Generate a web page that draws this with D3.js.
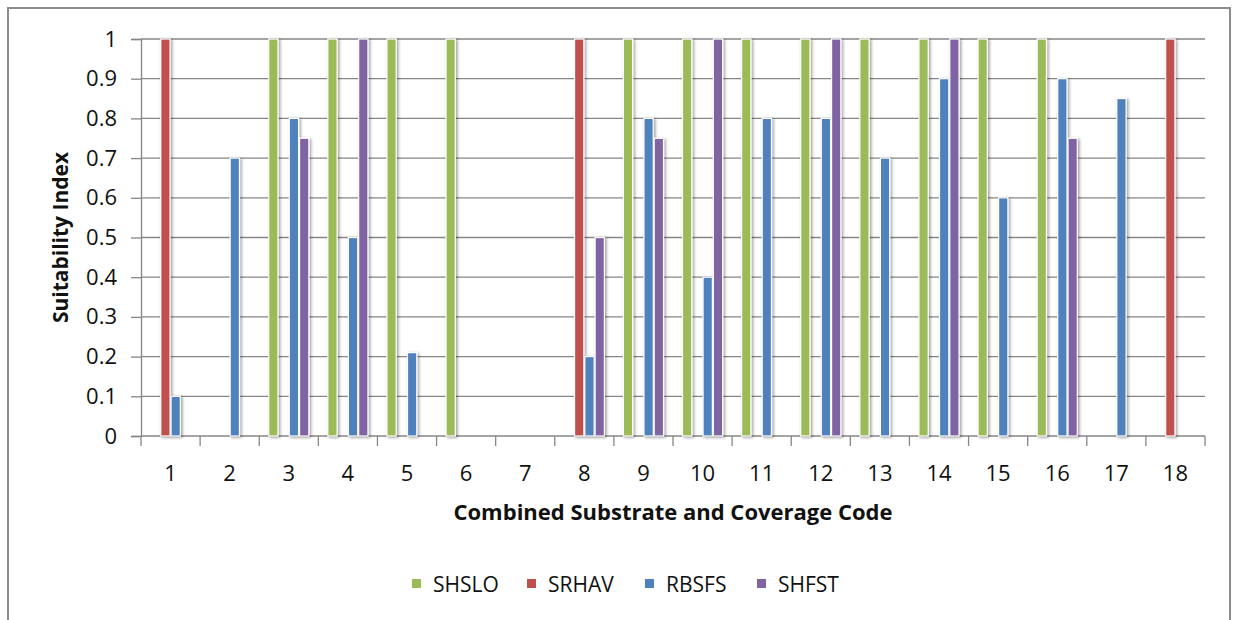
<!DOCTYPE html>
<html>
<head>
<meta charset="utf-8">
<script src="https://cdn.jsdelivr.net/npm/d3@7"></script>
<style>
  body { margin: 0; background: #fff; }
  svg text { font-family: "Open Sans", "Liberation Sans", sans-serif; fill: #111; }
</style>
</head>
<body>
<div id="chart"></div>
<script>
// Chart data
const categories = ["1", "2", "3", "4", "5", "6", "7", "8", "9", "10", "11", "12", "13", "14", "15", "16", "17", "18"];
const seriesNames = ["SHSLO", "SRHAV", "RBSFS", "SHFST"];
const shslo = [null, null, 1, 1, 1, 1, null, null, 1, 1, 1, 1, 1, 1, 1, 1, null, null];
const srhav = [1, null, null, null, null, null, null, 1, null, null, null, null, null, null, null, null, null, 1];
const rbsfs = [0.1, 0.7, 0.8, 0.5, 0.21, null, null, 0.2, 0.8, 0.4, 0.8, 0.8, 0.7, 0.9, 0.6, 0.9, 0.85, null];
const shfst = [null, null, 0.75, 1, null, null, null, 0.5, 0.75, 1, null, 1, null, 1, null, 0.75, null, null];
const yTicks = [0, 0.1, 0.2, 0.3, 0.4, 0.5, 0.6, 0.7, 0.8, 0.9, 1];
const colors = ["#9BBB59", "#C0504D", "#4F81BD", "#8064A2"];

const seriesValues = [shslo, srhav, rbsfs, shfst];

// Dimensions
const W = 1235, H = 620;
const plot = { left: 141, right: 1205, top: 39, bottom: 436 };

const svg = d3.select("#chart")
    .append("svg")
    .attr("width", W)
    .attr("height", H);

// Drop shadow for bars
const defs = svg.append("defs");
const shadow = defs.append("filter")
    .attr("id", "shadow")
    .attr("x", "-50%").attr("y", "-10%")
    .attr("width", "200%").attr("height", "120%");
shadow.append("feDropShadow")
    .attr("dx", 1.5).attr("dy", 1)
    .attr("stdDeviation", 1.5)
    .attr("flood-color", "#000")
    .attr("flood-opacity", 0.4);

// Outer frame
svg.append("rect")
    .attr("x", 8).attr("y", 8)
    .attr("width", 1222).attr("height", 640)
    .attr("fill", "none")
    .attr("stroke", "#8c8c8c")
    .attr("stroke-width", 2);

// Scales
const x = d3.scaleBand()
    .domain(categories)
    .range([plot.left, plot.right])
    .paddingInner(0)
    .paddingOuter(0);

const xInner = d3.scaleBand()
    .domain(seriesNames)
    .range([0, x.bandwidth()])
    .paddingInner(0)
    .paddingOuter(0.875);

const y = d3.scaleLinear()
    .domain([0, 1])
    .range([plot.bottom, plot.top]);

// Gridlines
svg.append("g")
    .selectAll("line")
    .data(yTicks.filter(d => d > 0))
    .enter()
    .append("line")
    .attr("x1", plot.left).attr("x2", plot.right)
    .attr("y1", d => y(d)).attr("y2", d => y(d))
    .attr("stroke", "#868686")
    .attr("stroke-width", 1.3);

// Y axis
const yAxis = svg.append("g")
    .attr("transform", `translate(${plot.left},0)`)
    .call(d3.axisLeft(y).tickValues(yTicks).tickSize(10).tickPadding(14).tickFormat(d3.format("")));
yAxis.select(".domain").attr("stroke", "#868686").attr("stroke-width", 1.3);
yAxis.selectAll(".tick line").attr("stroke", "#868686").attr("stroke-width", 1.3);
yAxis.selectAll("text")
    .style("font-size", "22px")
    .attr("fill", "#111");

// X axis (ticks between categories)
const boundaries = categories.map(c => x(c)).concat([x(categories[categories.length - 1]) + x.bandwidth()]);
svg.append("g")
    .selectAll("line")
    .data(boundaries)
    .enter()
    .append("line")
    .attr("x1", d => d).attr("x2", d => d)
    .attr("y1", plot.bottom).attr("y2", plot.bottom + 10)
    .attr("stroke", "#868686")
    .attr("stroke-width", 1.3);

svg.append("line")
    .attr("x1", plot.left).attr("x2", plot.right)
    .attr("y1", plot.bottom).attr("y2", plot.bottom)
    .attr("stroke", "#868686")
    .attr("stroke-width", 1.3);

svg.append("g")
    .selectAll("text")
    .data(categories)
    .enter()
    .append("text")
    .attr("x", d => x(d) + x.bandwidth() / 2)
    .attr("y", 481)
    .attr("text-anchor", "middle")
    .style("font-size", "22px")
    .text(d => d);

// Bars
const barData = [];
seriesNames.forEach((s, si) => {
    seriesValues[si].forEach((v, ci) => {
        if (v !== null) barData.push({ series: s, cat: categories[ci], value: v, color: colors[si] });
    });
});

svg.append("g")
    .selectAll("rect")
    .data(barData)
    .enter()
    .append("rect")
    .attr("x", d => x(d.cat) + xInner(d.series) + 0.5)
    .attr("y", d => y(d.value))
    .attr("width", xInner.bandwidth() - 1)
    .attr("height", d => plot.bottom - y(d.value))
    .attr("fill", d => d.color)
    .attr("stroke", "#fff")
    .attr("stroke-width", 1.2)
    .attr("filter", "url(#shadow)");

// Axis titles
svg.append("text")
    .attr("x", (plot.left + plot.right) / 2)
    .attr("y", 520)
    .attr("text-anchor", "middle")
    .style("font-size", "22px")
    .style("font-weight", "bold")
    .text("Combined Substrate and Coverage Code");

svg.append("text")
    .attr("transform", `translate(68,${(plot.top + plot.bottom) / 2}) rotate(-90)`)
    .attr("text-anchor", "middle")
    .style("font-size", "21px")
    .style("font-weight", "bold")
    .text("Suitability Index");

// Legend
const legendX = [412, 527, 645, 757];
const legend = svg.append("g");
seriesNames.forEach((s, i) => {
    legend.append("rect")
        .attr("x", legendX[i]).attr("y", 579)
        .attr("width", 9).attr("height", 9)
        .attr("fill", colors[i]);
    legend.append("text")
        .attr("x", legendX[i] + 21)
        .attr("y", 592)
        .style("font-size", "21px")
        .text(s);
});
</script>
</body>
</html>
